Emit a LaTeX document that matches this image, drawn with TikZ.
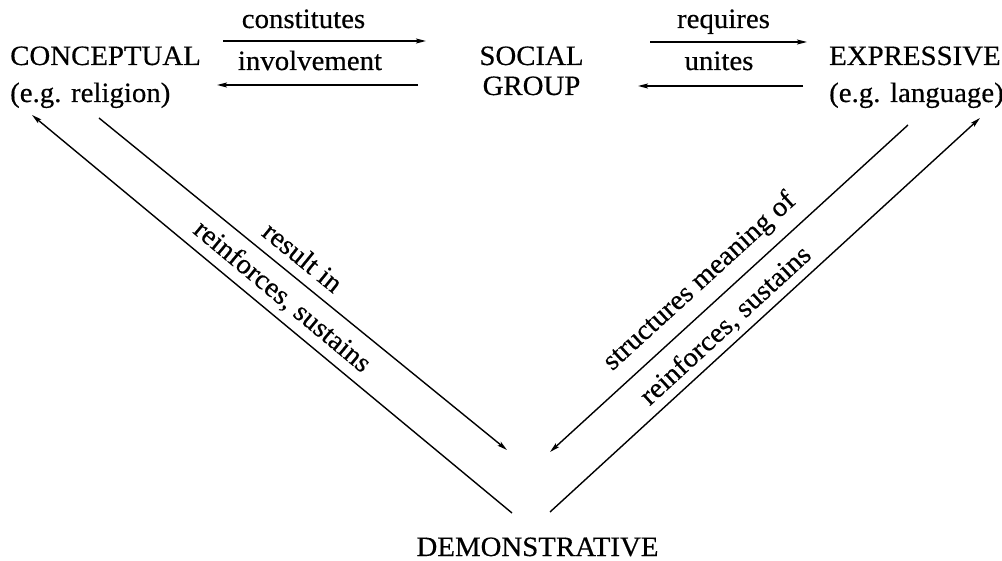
\documentclass[tikz,border=0pt]{standalone}
\usepackage{fontspec}
\setmainfont{Liberation Serif}[FakeStretch=1.03,FakeBold=0.4]
\usetikzlibrary{arrows.meta}
\begin{document}
\begin{tikzpicture}[x=1pt,y=-1pt,
  txt/.style={font=\fontsize{28}{34}\selectfont, inner sep=0pt, anchor=base west},
  ctxt/.style={font=\fontsize{28}{34}\selectfont, inner sep=0pt, anchor=base},
  lbl/.style={font=\fontsize{28}{34}\selectfont, inner sep=0pt, anchor=base},
  dlbl/.style={font=\fontsize{28}{34}\selectfont, inner sep=0pt, anchor=center},
  conn/.style={line width=1.4pt, -{Stealth[length=10pt,width=5pt,inset=2pt]}}]
\useasboundingbox (0,0) rectangle (1002,561);
% main terms
\node[txt] (concept) at (10,65) {CONCEPTUAL};
\node[txt] (conceptEg) at (10,102) {(e.g. religion)};
\node[ctxt] (social) at (531.5,65) {SOCIAL};
\node[ctxt] (group) at (531.5,95) {GROUP};
\node[txt] (expr) at (829,65) {EXPRESSIVE};
\node[txt] (exprEg) at (829,102) {(e.g. language)};
\node[ctxt] (demo) at (537.5,556) {DEMONSTRATIVE};
% connector end points
\coordinate (a1s) at (223,41);  \coordinate (a1e) at (426,41);
\coordinate (a2s) at (418,85);  \coordinate (a2e) at (217,85);
\coordinate (a3s) at (650,42);  \coordinate (a3e) at (807,42);
\coordinate (a4s) at (803,86);  \coordinate (a4e) at (638,86);
\coordinate (d1s) at (512,513); \coordinate (d1e) at (32,115);
\coordinate (d2s) at (99,118);  \coordinate (d2e) at (507,450);
\coordinate (d3s) at (908,125); \coordinate (d3e) at (550,452);
\coordinate (d4s) at (550,512); \coordinate (d4e) at (980,118);
% connectors
\draw[conn] (a1s) -- (a1e);
\draw[conn] (a2s) -- (a2e);
\draw[conn] (a3s) -- (a3e);
\draw[conn] (a4s) -- (a4e);
\draw[conn] (d1s) -- (d1e);
\draw[conn] (d2s) -- (d2e);
\draw[conn] (d3s) -- (d3e);
\draw[conn] (d4s) -- (d4e);
% labels
\node[lbl] (lConst) at (303.5,28) {constitutes};
\node[lbl] (lInv) at (310,70) {involvement};
\node[lbl] (lReq) at (723.5,28) {requires};
\node[lbl] (lUni) at (719,70) {unites};
\node[dlbl, rotate=-39.1] (lRes) at (303,257) {result in};
\node[dlbl, rotate=-39.7] (lReinL) at (282,297) {reinforces, sustains};
\node[dlbl, rotate=42.4] (lStruct) at (700,282) {structures meaning of};
\node[dlbl, rotate=42.5] (lReinR) at (726,326) {reinforces, sustains};
\end{tikzpicture}
\end{document}
